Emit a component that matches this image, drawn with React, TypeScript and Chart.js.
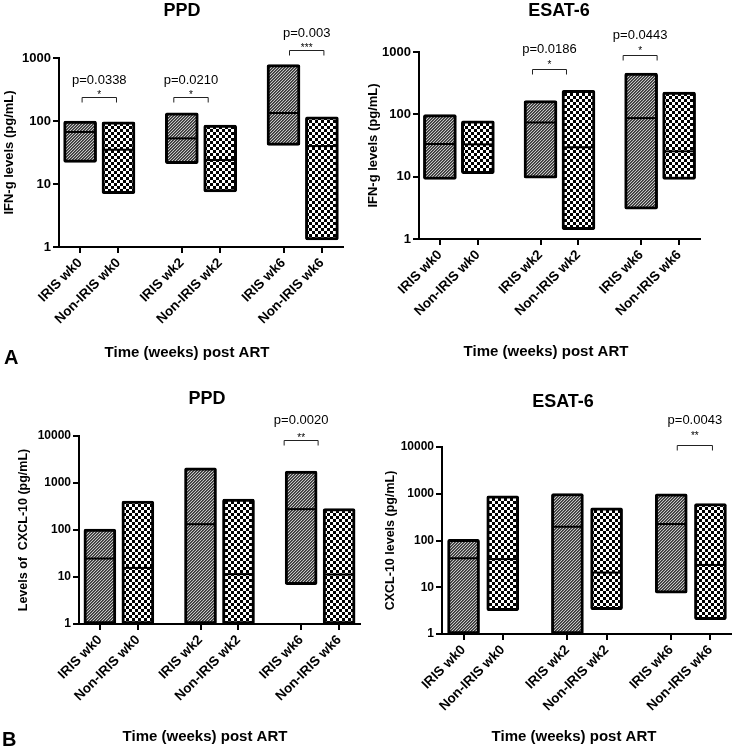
import React, { useEffect, useRef } from "react";
import { Chart, registerables } from "chart.js";
Chart.register(...registerables);

const FONT = "'Liberation Sans', Arial, Helvetica, sans-serif";
const W = 366;
const H = 375;
const GROUP_STEP = 2.65;

// Categories (IRIS / Non-IRIS at weeks 0, 2, 6)
const categories = ["IRIS wk0", "Non-IRIS wk0", "IRIS wk2", "Non-IRIS wk2", "IRIS wk6", "Non-IRIS wk6"];

// Y tick labels
const yTicksIfn = [1, 10, 100, 1000];
const yTicksCxcl = [1, 10, 100, 1000, 10000];

// A, left: IFN-g, PPD  (min, max, median)
const ifnPpdMin = [22, 7.0, 21, 7.5, 41, 1.3];
const ifnPpdMax = [100, 97, 135, 86, 784, 116];
const ifnPpdMedian = [67, 35, 53, 24, 134, 40];
const ifnPpdPLabels = ["p=0.0338", "p=0.0210", "p=0.003"];
const ifnPpdStars = ["*", "*", "***"];
const ifnPpdGroups = [0, 1, 2];
const ifnPpdBracketAt = [240, 240, 1340];

// A, right: IFN-g, ESAT-6
const ifnEsatMin = [9.0, 11.2, 9.5, 1.41, 3.0, 9.0];
const ifnEsatMax = [99, 79, 166, 243, 460, 228];
const ifnEsatMedian = [33.4, 33, 74, 29.6, 87, 25.5];
const ifnEsatPLabels = ["p=0.0186", "p=0.0443"];
const ifnEsatStars = ["*", "*"];
const ifnEsatGroups = [1, 2];
const ifnEsatBracketAt = [540, 895];

// B, left: CXCL-10, PPD
const cxclPpdMin = [1, 1, 1, 1, 6.9, 1];
const cxclPpdMax = [104, 412, 2114, 454, 1795, 287];
const cxclPpdMedian = [24.7, 15.6, 133, 11.5, 278, 11.3];
const cxclPpdPLabels = ["p=0.0020"];
const cxclPpdStars = ["**"];
const cxclPpdGroups = [2];
const cxclPpdBracketAt = [8220];

// B, right: CXCL-10, ESAT-6
const cxclEsatMin = [1, 3.14, 1, 3.3, 7.5, 2.02];
const cxclEsatMax = [106, 903, 1012, 501, 1000, 620];
const cxclEsatMedian = [41.7, 40, 197, 20.6, 225, 30];
const cxclEsatPLabels = ["p=0.0043"];
const cxclEsatStars = ["**"];
const cxclEsatGroups = [2];
const cxclEsatBracketAt = [10860];

type PanelCfg = {
  left: number; top: number;
  area: { l: number; t: number; r: number; b: number };
  title: string; titleX: number; titleY: number;
  xTitle: string; xTitleX: number; xTitleY: number;
  yTitle: string; yTitleSize: number; yTitlePad: number;
  yTicks: number[]; yTickSize: number; xTickSize: number;
  min: number[]; max: number[]; median: number[];
  pLabels: string[]; stars: string[]; groups: number[]; bracketAt: number[];
  bShift: number[]; pGap: number; starGap: number; barW: number;
};

const panels: PanelCfg[] = [
  {
    left: 0, top: 0, area: { l: 59, t: 58, r: 343, b: 247 },
    title: "PPD", titleX: 182, titleY: 11,
    xTitle: "Time (weeks) post ART", xTitleX: 187, xTitleY: 353,
    yTitle: "IFN-g levels (pg/mL)", yTitleSize: 13, yTitlePad: 2,
    yTicks: yTicksIfn, yTickSize: 13, xTickSize: 13.5,
    min: ifnPpdMin, max: ifnPpdMax, median: ifnPpdMedian,
    pLabels: ifnPpdPLabels, stars: ifnPpdStars, groups: ifnPpdGroups, bracketAt: ifnPpdBracketAt,
    bShift: [0, -10, 4], pGap: 17, starGap: 5, barW: 33,
  },
  {
    left: 366, top: 0, area: { l: 53, t: 52, r: 334, b: 239 },
    title: "ESAT-6", titleX: 193, titleY: 11,
    xTitle: "Time (weeks) post ART", xTitleX: 180, xTitleY: 352,
    yTitle: "IFN-g levels (pg/mL)", yTitleSize: 13, yTitlePad: 0,
    yTicks: yTicksIfn, yTickSize: 13, xTickSize: 13.5,
    min: ifnEsatMin, max: ifnEsatMax, median: ifnEsatMedian,
    pLabels: ifnEsatPLabels, stars: ifnEsatStars, groups: ifnEsatGroups, bracketAt: ifnEsatBracketAt,
    bShift: [-10, -20], pGap: 20, starGap: 7.5, barW: 33,
  },
  {
    left: 0, top: 375, area: { l: 79, t: 61, r: 360, b: 249 },
    title: "PPD", titleX: 207, titleY: 24,
    xTitle: "Time (weeks) post ART", xTitleX: 205, xTitleY: 362,
    yTitle: "Levels of  CXCL-10 (pg/mL)", yTitleSize: 12.5, yTitlePad: 16.5,
    yTicks: yTicksCxcl, yTickSize: 12, xTickSize: 13.5,
    min: cxclPpdMin, max: cxclPpdMax, median: cxclPpdMedian,
    pLabels: cxclPpdPLabels, stars: cxclPpdStars, groups: cxclPpdGroups, bracketAt: cxclPpdBracketAt,
    bShift: [-19], pGap: 20, starGap: 5, barW: 32,
  },
  {
    left: 366, top: 375, area: { l: 76, t: 72, r: 366, b: 259 },
    title: "ESAT-6", titleX: 197, titleY: 27,
    xTitle: "Time (weeks) post ART", xTitleX: 208, xTitleY: 362,
    yTitle: "CXCL-10 levels (pg/mL)", yTitleSize: 12.5, yTitlePad: 17.5,
    yTicks: yTicksCxcl, yTickSize: 12, xTickSize: 13.5,
    min: cxclEsatMin, max: cxclEsatMax, median: cxclEsatMedian,
    pLabels: cxclEsatPLabels, stars: cxclEsatStars, groups: cxclEsatGroups, bracketAt: cxclEsatBracketAt,
    bShift: [4], pGap: 25, starGap: 12, barW: 32,
  },
];

function makeTile(kind: "hatch" | "check"): HTMLCanvasElement {
  const size = kind === "hatch" ? 3 : 6;
  const c = document.createElement("canvas");
  c.width = size;
  c.height = size;
  const cx = c.getContext("2d")!;
  const img = cx.createImageData(size, size);
  for (let y = 0; y < size; y++) {
    for (let x = 0; x < size; x++) {
      let v: number;
      if (kind === "hatch") {
        const m = (x + y) % 3;
        v = m === 2 ? 200 : m === 1 ? 90 : 55;
      } else v = (Math.floor(x / 3) + Math.floor(y / 3)) % 2 === 0 ? 255 : 0;
      const k = (y * size + x) * 4;
      img.data[k] = v;
      img.data[k + 1] = v;
      img.data[k + 2] = v;
      img.data[k + 3] = 255;
    }
  }
  cx.putImageData(img, 0, 0);
  return c;
}

function Panel({ cfg }: { cfg: PanelCfg }) {
  const ref = useRef<HTMLCanvasElement>(null);
  useEffect(() => {
    const canvas = ref.current!;
    const ctx0 = canvas.getContext("2d")!;
    const hatch = ctx0.createPattern(makeTile("hatch"), "repeat")!;
    const check = ctx0.createPattern(makeTile("check"), "repeat")!;
    const xs = categories.map((_, i) => Math.floor(i / 2) * GROUP_STEP + (i % 2));

    const overlay = {
      id: "overlay",
      afterDatasetsDraw(chart: any) {
        const ctx = chart.ctx as CanvasRenderingContext2D;
        const meta = chart.getDatasetMeta(0);
        const ys = chart.scales.y;
        const xsc = chart.scales.x;
        ctx.save();
        ctx.strokeStyle = "#000";
        ctx.lineWidth = 2;
        meta.data.forEach((bar: any, i: number) => {
          const py = ys.getPixelForValue(cfg.median[i]);
          const hw = bar.width / 2;
          ctx.beginPath();
          ctx.moveTo(bar.x - hw + 1, py);
          ctx.lineTo(bar.x + hw - 1, py);
          ctx.stroke();
        });
        cfg.groups.forEach((g, k) => {
          const x1 = xsc.getPixelForValue(xs[2 * g]) + cfg.bShift[k] + 2;
          const x2 = xsc.getPixelForValue(xs[2 * g + 1]) + cfg.bShift[k] - 2;
          const by = Math.round(ys.getPixelForValue(cfg.bracketAt[k])) + 0.5;
          ctx.lineWidth = 1;
          ctx.strokeStyle = "#222";
          ctx.beginPath();
          ctx.moveTo(x1, by + 5);
          ctx.lineTo(x1, by);
          ctx.lineTo(x2, by);
          ctx.lineTo(x2, by + 5);
          ctx.stroke();
          const cx = (x1 + x2) / 2;
          ctx.fillStyle = "#000";
          ctx.textAlign = "center";
          ctx.textBaseline = "alphabetic";
          ctx.font = `10px ${FONT}`;
          ctx.fillText(cfg.stars[k], cx, by - cfg.starGap + 5.5);
          ctx.textBaseline = "middle";
          ctx.font = `13px ${FONT}`;
          ctx.fillText(cfg.pLabels[k], cx, by - cfg.pGap);
        });
        ctx.restore();
      },
      afterDraw(chart: any) {
        const ctx = chart.ctx as CanvasRenderingContext2D;
        ctx.save();
        ctx.fillStyle = "#000";
        ctx.textAlign = "center";
        ctx.textBaseline = "middle";
        ctx.font = `bold 18px ${FONT}`;
        ctx.fillText(cfg.title, cfg.titleX, cfg.titleY);
        ctx.font = `bold 15px ${FONT}`;
        ctx.fillText(cfg.xTitle, cfg.xTitleX, cfg.xTitleY);
        ctx.restore();
      },
    };

    const chart = new Chart(canvas, {
      type: "bar",
      data: {
        datasets: [
          {
            label: cfg.title,
            data: xs.map((x, i) => ({ x, y: [cfg.min[i], cfg.max[i]] })) as any,
            backgroundColor: xs.map((_, i) => (i % 2 === 0 ? hatch : check)) as any,
            borderColor: "#000",
            borderWidth: 3,
            borderSkipped: false,
            borderRadius: 2,
            barThickness: cfg.barW,
          },
        ],
      },
      options: {
        responsive: false,
        animation: false,
        devicePixelRatio: 1,
        layout: { padding: { left: 0, top: cfg.area.t, right: W - cfg.area.r, bottom: 0 } },
        plugins: { legend: { display: false }, title: { display: false }, tooltip: { enabled: false } },
        scales: {
          x: {
            type: "linear",
            min: -0.55,
            max: xs[xs.length - 1] + 0.55,
            offset: false,
            grid: { offset: false, drawOnChartArea: false, drawTicks: true, tickLength: 6, color: "#000", lineWidth: 2 },
            border: { display: true, color: "#000", width: 2 },
            ticks: {
              autoSkip: false,
              minRotation: 45,
              maxRotation: 45,
              padding: 2,
              color: "#000",
              font: { family: FONT, size: cfg.xTickSize, weight: "bold" },
              callback: (_v: any, i: number) => categories[i] ?? "",
            },
            afterBuildTicks: (s: any) => {
              s.ticks = xs.map((v) => ({ value: v }));
            },
            afterFit: (s: any) => {
              s.height = H - cfg.area.b;
            },
          } as any,
          y: {
            type: "logarithmic",
            min: cfg.yTicks[0],
            max: cfg.yTicks[cfg.yTicks.length - 1],
            grid: { drawOnChartArea: false, drawTicks: true, tickLength: 6, color: "#000", lineWidth: 2 },
            border: { display: true, color: "#000", width: 2 },
            ticks: {
              autoSkip: false,
              padding: 2,
              color: "#000",
              font: { family: FONT, size: cfg.yTickSize, weight: "bold" },
              callback: (v: any) => String(v),
            },
            afterBuildTicks: (s: any) => {
              s.ticks = cfg.yTicks.map((v) => ({ value: v }));
            },
            afterFit: (s: any) => {
              s.width = cfg.area.l;
            },
            title: {
              display: true,
              text: cfg.yTitle,
              color: "#000",
              font: { family: FONT, size: cfg.yTitleSize, weight: "bold" },
              padding: { top: cfg.yTitlePad, bottom: 0 },
            },
          } as any,
        },
      },
      plugins: [overlay],
    });
    return () => chart.destroy();
  }, [cfg]);

  return (
    <div style={{ position: "absolute", left: cfg.left, top: cfg.top, width: W, height: H }}>
      <canvas ref={ref} width={W} height={H} style={{ display: "block", width: W, height: H }} />
    </div>
  );
}

export default function App() {
  const letter: React.CSSProperties = {
    position: "absolute",
    fontFamily: FONT,
    fontWeight: "bold",
    fontSize: 20,
    lineHeight: "20px",
    color: "#000",
  };
  return (
    <div style={{ position: "absolute", left: 0, top: 0, width: 732, height: 750, background: "#fff", overflow: "hidden" }}>
      {panels.map((p, i) => (
        <Panel key={i} cfg={p} />
      ))}
      <div style={{ ...letter, left: 4, top: 347 }}>A</div>
      <div style={{ ...letter, left: 2, top: 729 }}>B</div>
    </div>
  );
}
